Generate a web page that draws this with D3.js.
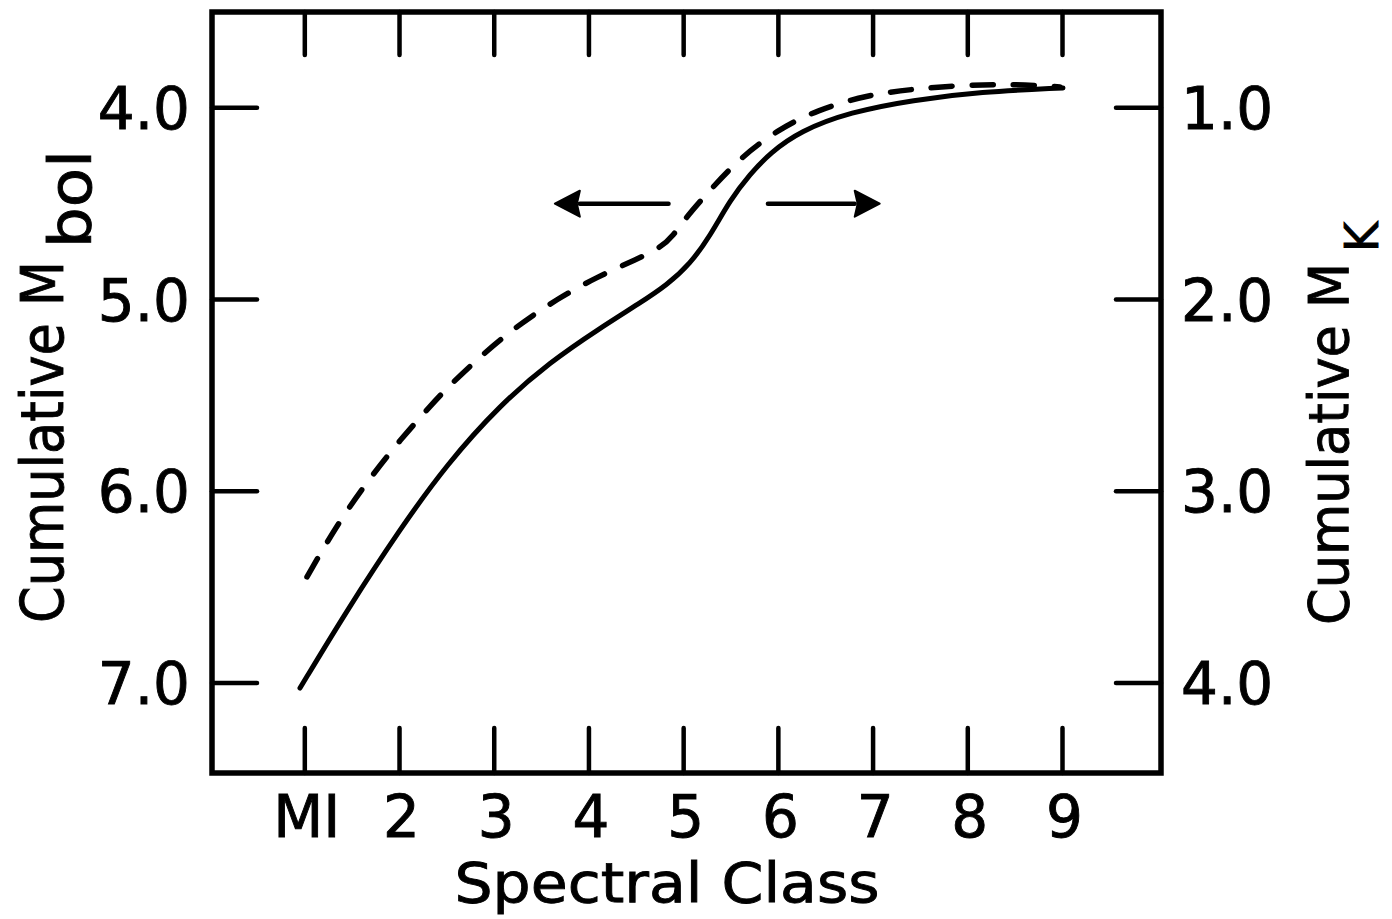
<!DOCTYPE html>
<html>
<head>
<meta charset="utf-8">
<script src="https://cdn.jsdelivr.net/npm/d3@7"></script>
<style>
  html, body { margin: 0; padding: 0; background: #fff; }
  svg { display: block; }
  text { font-family: "DejaVu Sans", sans-serif; fill: #000; stroke: #000; stroke-width: 0.9px; }
</style>
</head>
<body>
<svg id="chart" width="1392" height="919"></svg>
<script>
// Spectral subclass positions (M1 = 1 ... M9 = 9)
const classTicks = [1, 2, 3, 4, 5, 6, 7, 8, 9];
const classLabels = ["MI", "2", "3", "4", "5", "6", "7", "8", "9"];

// Left axis: cumulative bolometric magnitude
const mbolTicks = [4, 5, 6, 7];
const mbolTickLabels = ["4.0", "5.0", "6.0", "7.0"];
// Right axis: cumulative K magnitude
const mkTicks = [1, 2, 3, 4];
const mkTickLabels = ["1.0", "2.0", "3.0", "4.0"];

// Dashed curve: cumulative M_bol vs spectral class
const mbolClass = [1.023, 1.160, 1.403, 1.688, 2.005, 2.343, 2.533, 2.882, 3.241, 3.663, 4.085, 4.508, 4.751, 4.888, 5.036, 5.279, 5.595, 5.986, 6.408, 6.936, 7.422, 7.950, 8.478, 8.974];
const mbolValue = [6.447, 6.328, 6.129, 5.931, 5.733, 5.545, 5.446, 5.284, 5.138, 4.997, 4.882, 4.789, 4.731, 4.669, 4.564, 4.429, 4.262, 4.116, 4.011, 3.933, 3.902, 3.881, 3.876, 3.891];

// Solid curve: cumulative M_K vs spectral class
const mkClass = [0.949, 1.446, 2.005, 2.501, 3.061, 3.589, 4.117, 4.539, 4.824, 5.067, 5.279, 5.490, 5.701, 5.912, 6.229, 6.757, 7.422, 8.129, 9.005];
const mkValue = [4.027, 3.620, 3.197, 2.858, 2.550, 2.326, 2.149, 2.018, 1.924, 1.815, 1.669, 1.481, 1.345, 1.236, 1.121, 1.022, 0.959, 0.917, 0.896];

// Direction arrows (class, M_bol) pointing at the axis each curve belongs to
const arrows = [
  { from: 4.84, to: 3.64, level: 4.5 },
  { from: 5.89, to: 7.07, level: 4.5 }
];

const svg = d3.select("#chart");

const x = d3.scaleLinear().domain([0.02, 10.04]).range([212, 1161]);
const yL = d3.scaleLinear().domain([3.5, 7.47]).range([12, 773]);
const yR = d3.scaleLinear().domain([0.5, 4.47]).range([12, 773]);

const [x0, x1] = x.range();
const [y0, y1] = yL.range();
const tickLen = 45;

// Inward ticks on all four sides
const axes = svg.append("g").attr("stroke", "#000").attr("stroke-width", 4.5).attr("stroke-linecap", "round");
classTicks.forEach(c => {
  axes.append("line").attr("x1", x(c)).attr("x2", x(c)).attr("y1", y0).attr("y2", y0 + tickLen - 2);
  axes.append("line").attr("x1", x(c)).attr("x2", x(c)).attr("y1", y1).attr("y2", y1 - tickLen);
});
mbolTicks.forEach(v => {
  axes.append("line").attr("x1", x0).attr("x2", x0 + tickLen).attr("y1", yL(v)).attr("y2", yL(v));
});
mkTicks.forEach(v => {
  axes.append("line").attr("x1", x1).attr("x2", x1 - tickLen).attr("y1", yR(v)).attr("y2", yR(v));
});

// Frame
svg.append("rect")
  .attr("x", x0).attr("y", y0)
  .attr("width", x1 - x0).attr("height", y1 - y0)
  .attr("fill", "none").attr("stroke", "#000").attr("stroke-width", 5.5);

// Tick labels
const fs = 58;
svg.append("g").selectAll("text").data(classTicks).join("text")
  .attr("x", (d) => x(d) + 2).attr("y", 837)
  .attr("text-anchor", "middle").attr("font-size", fs)
  .text((d, i) => classLabels[i]);

svg.append("g").selectAll("text").data(mbolTicks).join("text")
  .attr("x", 190).attr("y", d => yL(d) + 21)
  .attr("text-anchor", "end").attr("font-size", fs)
  .text((d, i) => mbolTickLabels[i]);

svg.append("g").selectAll("text").data(mkTicks).join("text")
  .attr("x", 1181).attr("y", d => yR(d) + 21)
  .attr("text-anchor", "start").attr("font-size", fs)
  .text((d, i) => mkTickLabels[i]);

// Axis titles
svg.append("text")
  .attr("x", 667).attr("y", 902)
  .attr("text-anchor", "middle").attr("font-size", 56)
  .attr("textLength", 425).attr("lengthAdjust", "spacingAndGlyphs")
  .text("Spectral Class");

const lt = svg.append("text")
  .attr("transform", "translate(63,623) rotate(-90)")
  .attr("font-size", fs);
lt.append("tspan").attr("textLength", 362).attr("lengthAdjust", "spacingAndGlyphs").text("Cumulative M");
lt.append("tspan").attr("x", 375).attr("dy", 28).attr("textLength", 98).attr("lengthAdjust", "spacingAndGlyphs").text("bol");

const rt = svg.append("text")
  .attr("transform", "translate(1348,625) rotate(-90)")
  .attr("font-size", fs - 2);
rt.append("tspan").attr("textLength", 362).attr("lengthAdjust", "spacingAndGlyphs").text("Cumulative M");
rt.append("tspan").attr("x", 373).attr("dy", 30).attr("font-size", 46).text("K");

// Curves
const line = (xs, ys, yScale) => d3.line()
  .x(i => x(xs[i]))
  .y(i => yScale(ys[i]))
  .curve(d3.curveBasis)(d3.range(xs.length));

svg.append("path")
  .attr("d", line(mbolClass, mbolValue, yL))
  .attr("fill", "none").attr("stroke", "#000").attr("stroke-width", 5.5)
  .attr("stroke-linecap", "round").attr("stroke-dasharray", "21 20");

svg.append("path")
  .attr("d", line(mkClass, mkValue, yR))
  .attr("fill", "none").attr("stroke", "#000").attr("stroke-width", 5)
  .attr("stroke-linecap", "round");

// Arrows
arrows.forEach(a => {
  const dir = Math.sign(a.to - a.from);
  const tx = x(a.to), ty = yL(a.level);
  const back = tx - dir * 25;
  svg.append("line")
    .attr("x1", x(a.from)).attr("x2", back).attr("y1", ty).attr("y2", ty)
    .attr("stroke", "#000").attr("stroke-width", 4.5).attr("stroke-linecap", "round");
  svg.append("path")
    .attr("d", `M${tx},${ty} L${back},${ty - 13} L${back + dir * 3},${ty} L${back},${ty + 13} Z`)
    .attr("fill", "#000").attr("stroke", "#000").attr("stroke-width", 2).attr("stroke-linejoin", "round");
});
</script>
</body>
</html>
